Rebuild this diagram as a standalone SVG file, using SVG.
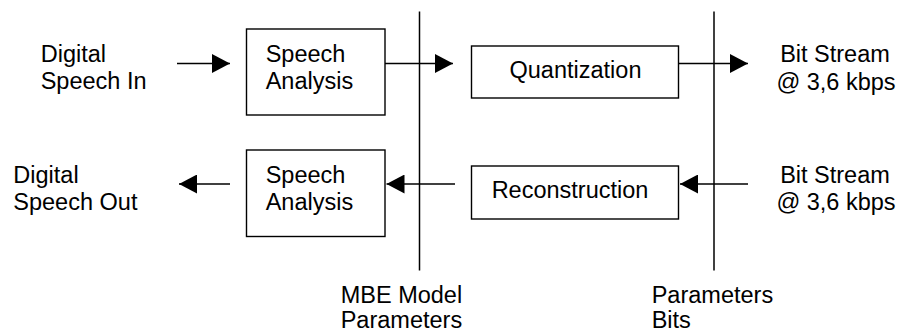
<svg xmlns="http://www.w3.org/2000/svg" width="898" height="331" viewBox="0 0 898 331">
  <style>
    .box { fill: #ffffff; stroke: #000000; stroke-width: 1.4; }
    .wire { fill: none; stroke: #000000; stroke-width: 1.4; }
    .rail { fill: none; stroke: #000000; stroke-width: 1.5; }
    text { font-family: "Liberation Sans", Arial, sans-serif; font-size: 23.5px; fill: #000000; }
    .mid { text-anchor: middle; }
  </style>
  <defs>
    <marker id="arrow" markerUnits="userSpaceOnUse" markerWidth="18" markerHeight="19" refX="18" refY="9.5" orient="auto">
      <path d="M0,0 L18,9.5 L0,19 Z" fill="#000000"/>
    </marker>
  </defs>

  <rect width="898" height="331" fill="#ffffff"/>

  <!-- vertical boundaries between stages -->
  <g id="boundaries">
    <line class="rail" x1="419.5" y1="11.5" x2="419.5" y2="270.5"/>
    <line class="rail" x1="714" y1="11.5" x2="714" y2="270.5"/>
  </g>

  <g id="connectors">
    <line class="wire" x1="177" y1="63.5" x2="230" y2="63.5" marker-end="url(#arrow)"/>
    <line class="wire" x1="385" y1="63.5" x2="453" y2="63.5" marker-end="url(#arrow)"/>
    <line class="wire" x1="679" y1="63.5" x2="748" y2="63.5" marker-end="url(#arrow)"/>
    <line class="wire" x1="748" y1="184" x2="680" y2="184" marker-end="url(#arrow)"/>
    <line class="wire" x1="455" y1="184" x2="386.5" y2="184" marker-end="url(#arrow)"/>
    <line class="wire" x1="230" y1="184" x2="179" y2="184" marker-end="url(#arrow)"/>
  </g>

  <g id="input-label">
    <text x="40.7" y="61.7">Digital</text>
    <text x="40.7" y="89">Speech In</text>
  </g>

  <g id="speech-analysis-enc">
    <rect class="box" x="246.5" y="29" width="138.5" height="86"/>
    <text x="265.7" y="62.3">Speech</text>
    <text x="265.7" y="89">Analysis</text>
  </g>

  <g id="quantization">
    <rect class="box" x="471.5" y="46" width="207" height="52"/>
    <text class="mid" x="575.5" y="77.7">Quantization</text>
  </g>

  <g id="bitstream-out">
    <text class="mid" x="835" y="62.3">Bit Stream</text>
    <text class="mid" x="836" y="89.5">@ 3,6 kbps</text>
  </g>

  <g id="output-label">
    <text x="13.3" y="183.3">Digital</text>
    <text x="13.3" y="210.3">Speech Out</text>
  </g>

  <g id="speech-analysis-dec">
    <rect class="box" x="246.5" y="150" width="138.5" height="86.5"/>
    <text x="265.7" y="183.3">Speech</text>
    <text x="265.7" y="210.3">Analysis</text>
  </g>

  <g id="reconstruction">
    <rect class="box" x="471.5" y="166" width="207" height="53"/>
    <text class="mid" x="570" y="198.3">Reconstruction</text>
  </g>

  <g id="bitstream-in">
    <text class="mid" x="835" y="183.3">Bit Stream</text>
    <text class="mid" x="836" y="210.3">@ 3,6 kbps</text>
  </g>

  <g id="mbe-label">
    <text x="340.7" y="303">MBE Model</text>
    <text x="340.7" y="327.5">Parameters</text>
  </g>

  <g id="bits-label">
    <text x="651.7" y="303">Parameters</text>
    <text x="651.7" y="327.5">Bits</text>
  </g>
</svg>
